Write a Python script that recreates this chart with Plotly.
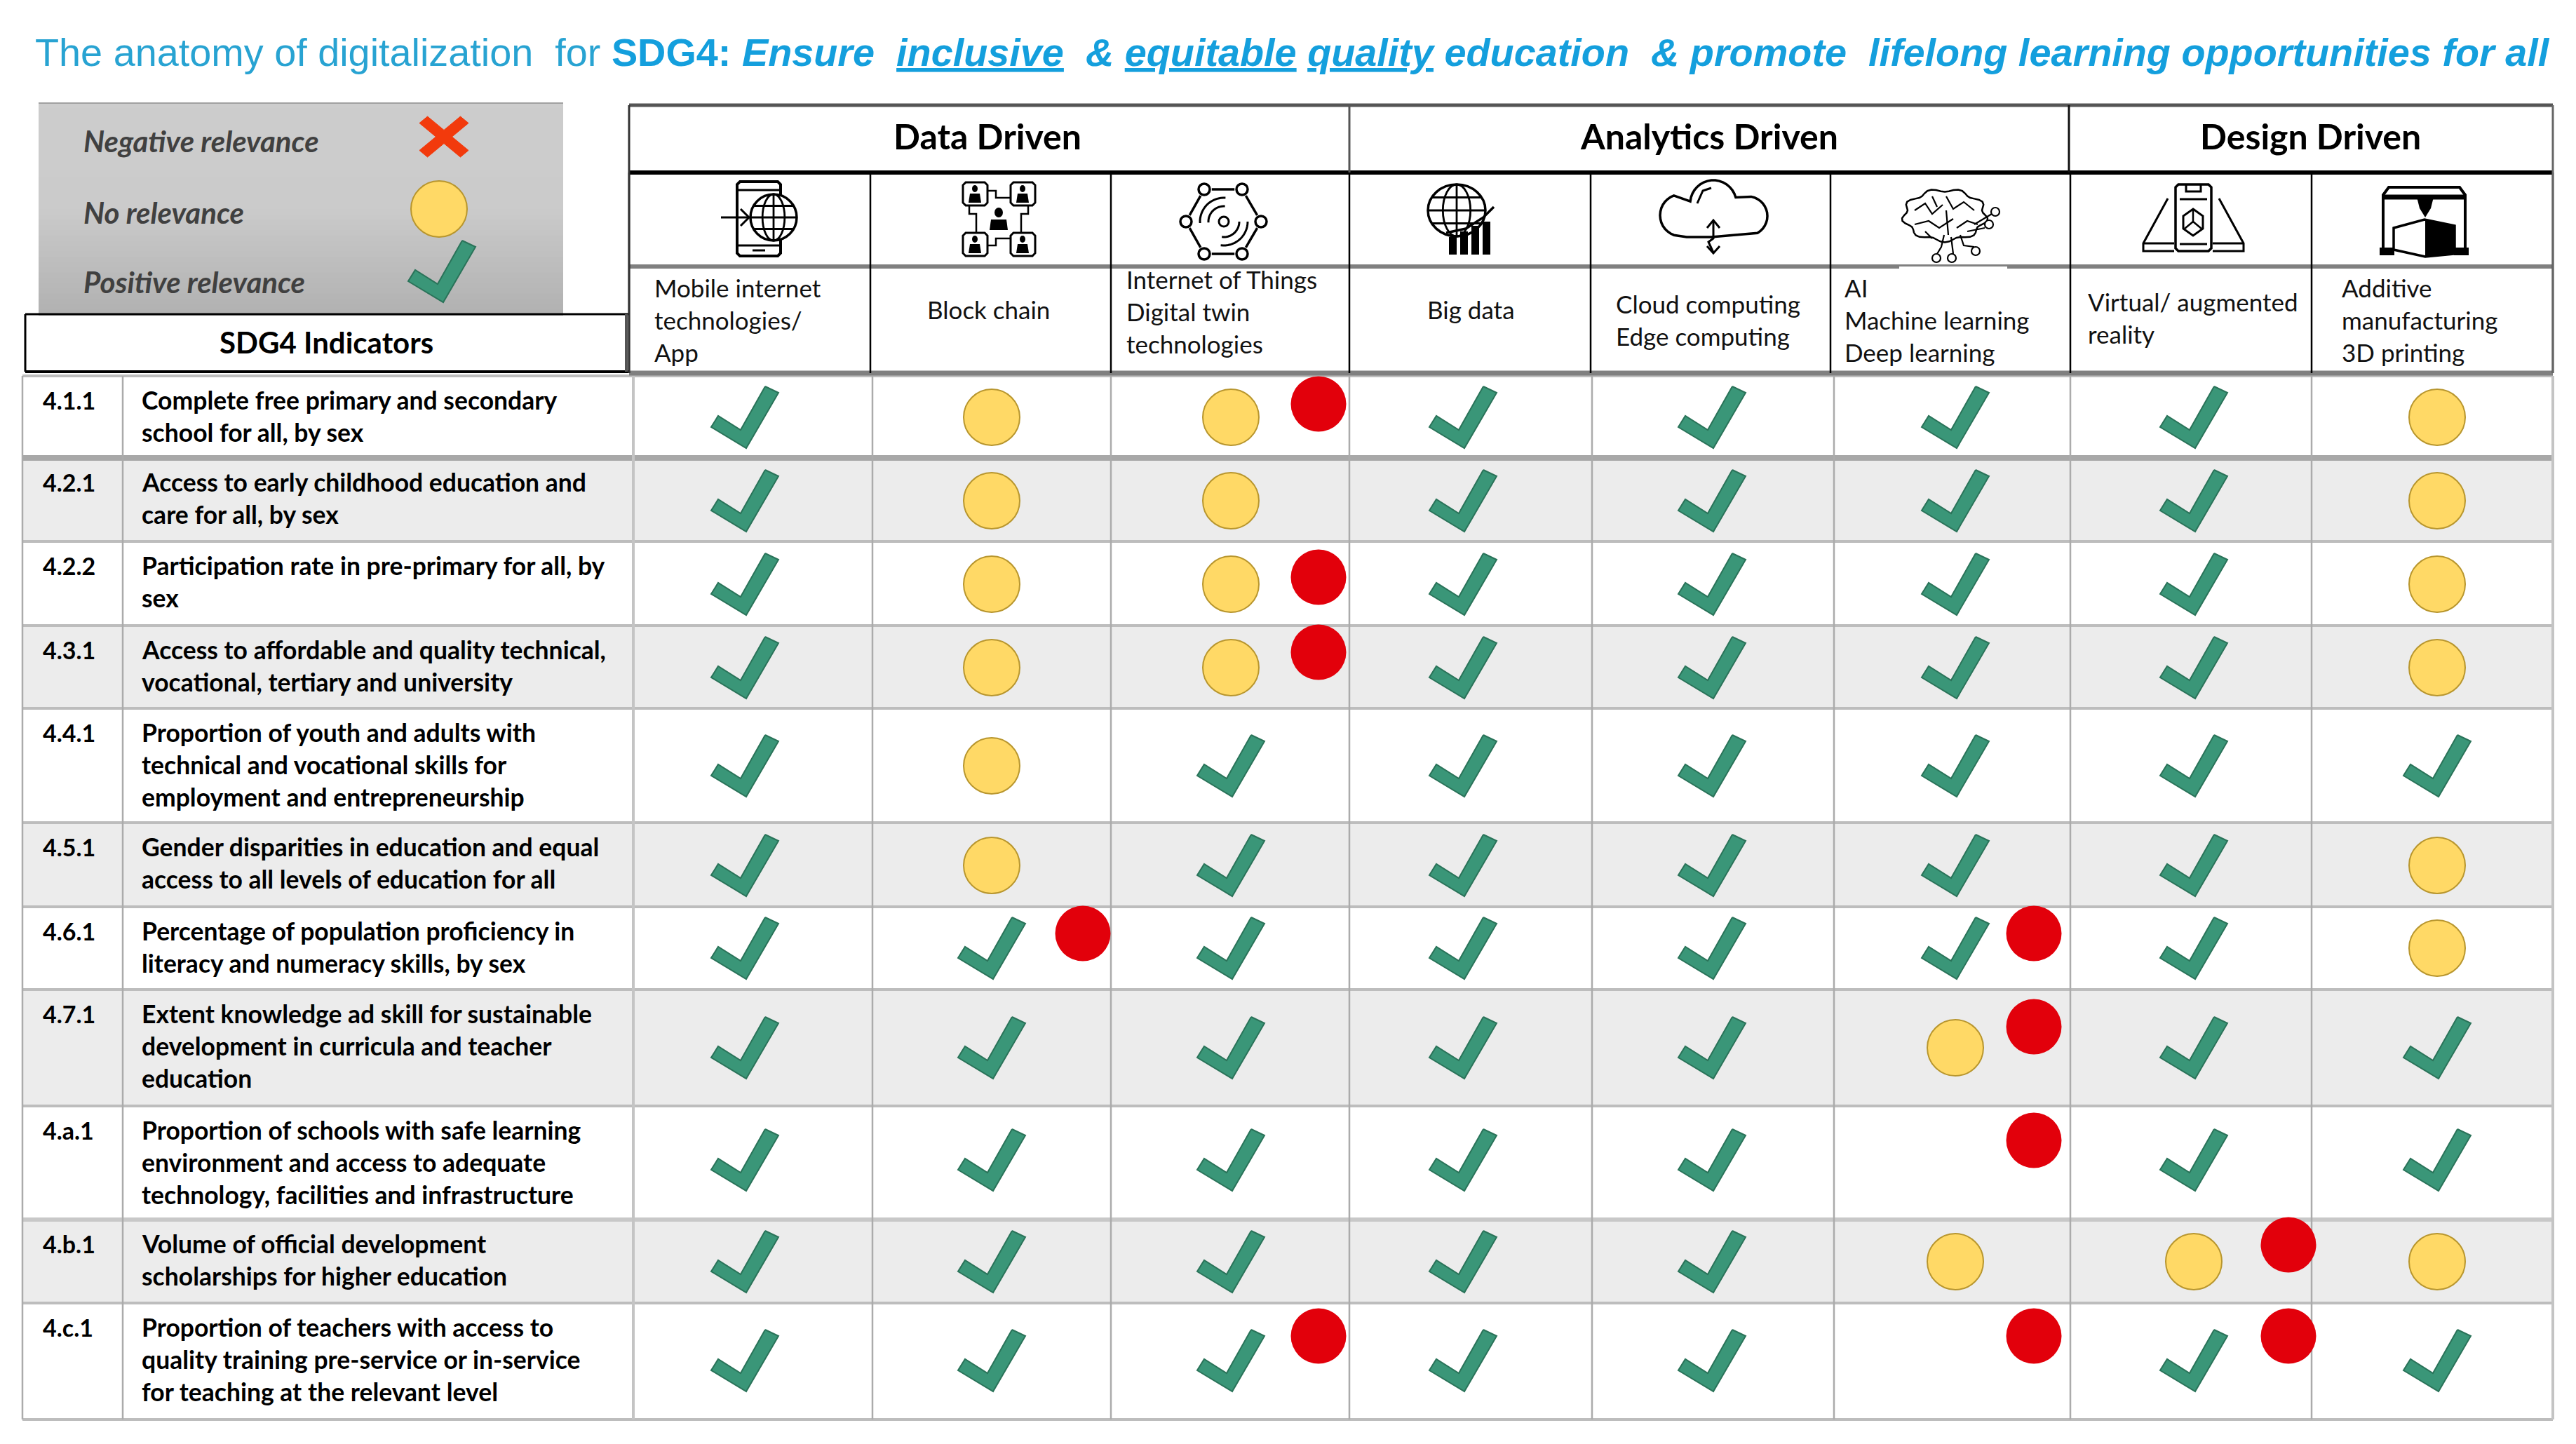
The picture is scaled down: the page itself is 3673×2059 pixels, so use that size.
import math
import plotly.graph_objects as go

# ---------- data ----------
SDG_CODES = ["4.1.1", "4.2.1", "4.2.2", "4.3.1", "4.4.1", "4.5.1", "4.6.1", "4.7.1", "4.a.1", "4.b.1", "4.c.1"]
INDICATORS = [
    ["Complete free primary and secondary", "school for all, by sex"],
    ["Access to early childhood education and", "care for all, by sex"],
    ["Participation rate in pre-primary for all, by", "sex"],
    ["Access to affordable and quality technical,", "vocational, tertiary and university"],
    ["Proportion of youth and adults with", "technical and vocational skills for", "employment and entrepreneurship"],
    ["Gender disparities in education and equal", "access to all levels of education for all"],
    ["Percentage of population proficiency in", "literacy and numeracy skills, by sex"],
    ["Extent knowledge ad skill for sustainable", "development in curricula and teacher", "education"],
    ["Proportion of schools with safe learning", "environment and access to adequate", "technology, facilities and infrastructure"],
    ["Volume of official development", "scholarships for higher education"],
    ["Proportion of teachers with access to", "quality training pre-service or in-service", "for teaching at the relevant level"],
]
GROUPS = ["Data Driven", "Analytics Driven", "Design Driven"]
TECHNOLOGIES = [
    ["Mobile internet", "technologies/", "App"],
    ["Block chain"],
    ["Internet of Things", "Digital twin", "technologies"],
    ["Big data"],
    ["Cloud computing", "Edge computing"],
    ["AI", "Machine learning", "Deep learning"],
    ["Virtual/ augmented", "reality"],
    ["Additive", "manufacturing", "3D printing"],
]
LEGEND_LABELS = ["Negative relevance", "No relevance", "Positive relevance"]
# P = positive (check), N = no relevance (yellow), - = empty
RELEVANCE = [
    "PNNPPPPN",
    "PNNPPPPN",
    "PNNPPPPN",
    "PNNPPPPN",
    "PNPPPPPP",
    "PNPPPPPN",
    "PPPPPPPN",
    "PPPPPNPP",
    "PPPPP-PP",
    "PPPPPNNN",
    "PPPPP-PP",
]
# red markers: (row index, technology index)
RED_FLAGS = [(0, 2), (2, 2), (3, 2), (6, 1), (6, 5), (7, 5), (8, 5), (9, 6), (10, 2), (10, 5), (10, 6)]

# ---------- layout constants (pixel grid of the page) ----------
W, H = 3673, 2059
ROW_LINES = [536, 653, 772, 892, 1010, 1173, 1293, 1411, 1577, 1739, 1858, 2024]
BODY_V = [32, 175, 903, 1244, 1584, 1924, 2270, 2615, 2952, 3296, 3640]
HEAD_V = [897, 1241, 1584, 1924, 2268, 2610, 2952, 3296, 3640]
COL_ANCHOR = [1062, 1414, 1755, 2086, 2441, 2788, 3128, 3475]
ROW_ANCHOR = [595, 714, 833, 952, 1092, 1234, 1352, 1494, 1654, 1799, 1940]
FLAG_DX = {1: 130, 2: 125, 5: 112, 6: 135}
FLAG_DY = {0: -19, 2: -10, 3: -22, 6: -21, 7: -30, 8: -28, 9: -24, 10: -35}
TECH_X = [932, 1321, 1605, 2034, 2303, 2629, 2976, 3338]
TECH_Y0 = [410, 441, 398, 441, 433, 410, 430, 410]
LINE_H = 46
CHECK = [(29, -44), (48, -35), (2, 44), (-48, 14), (-38, -2), (-6, 18)]
CHECK_FILL, CHECK_EDGE = "#3A9678", "#2a7359"
YELLOW, YELLOW_EDGE = "#FFD966", "#b8962e"
RED = "#E2000B"

fig = go.Figure()
shapes, notes = [], []


def line(x0, y0, x1, y1, color, width):
    shapes.append(dict(type="line", x0=x0, y0=y0, x1=x1, y1=y1, xref="x", yref="y",
                       line=dict(color=color, width=width), layer="below"))


def rect(x0, y0, x1, y1, fill, layer="below"):
    shapes.append(dict(type="rect", x0=x0, y0=y0, x1=x1, y1=y1, xref="x", yref="y",
                       fillcolor=fill, line=dict(width=0), layer=layer))


def text(x, y, s, size, color="#000000", family="Lato", anchor="left", weight=None, italic=False):
    f = dict(size=size, color=color, family=family)
    if weight:
        f["weight"] = weight
    if italic:
        f["style"] = "italic"
    notes.append(dict(x=x, y=y, xref="x", yref="y", text=s, showarrow=False, xanchor=anchor,
                      yanchor="middle", font=f, borderpad=0))


# ---------- legend box ----------
BOX = (55, 147, 803, 449)
BANDS = 40
for i in range(BANDS):
    t = i / (BANDS - 1)
    v = int(205 - 3 * t) if t < 0.5 else int(203 - (t - 0.5) * 2 * 25)
    rect(BOX[0], BOX[1] + (BOX[3] - BOX[1]) * i / BANDS, BOX[2], BOX[1] + (BOX[3] - BOX[1]) * (i + 1) / BANDS + 1,
         f"rgb({v},{v},{v})")
line(55, 147, 803, 147, "#a0a0a0", 2)
for lab, y in zip(LEGEND_LABELS, [201, 303, 402]):
    text(118, y, lab, 42, "#404040", weight=700, italic=True)

# ---------- grey rows and grid ----------
for r in range(1, 11, 2):
    rect(BODY_V[0], ROW_LINES[r], BODY_V[-1], ROW_LINES[r + 1], "#ececec")
for i, y in enumerate(ROW_LINES):
    w = 8 if i == 1 else 6 if i == 9 else 4
    c = "#a8a8a8" if i == 1 else "#c8c8c8" if i == 9 else "#bdbdbd"
    line(BODY_V[0], y, BODY_V[-1], y, c, w)
for i, x in enumerate(BODY_V):
    c = "#c4c4c4" if i in (2, len(BODY_V) - 1) else "#ababab"
    line(x, ROW_LINES[0], x, ROW_LINES[-1], c, 4 if i in (2, len(BODY_V) - 1) else 2.5)

# ---------- header grid ----------
line(36, 448, 897, 448, "#000000", 3)
line(36, 530, 897, 530, "#000000", 4)
line(36, 448, 36, 530, "#000000", 3)
line(893, 448, 893, 530, "#555555", 4)
line(897, 150, 3640, 150, "#555555", 5)
line(897, 246, 3640, 246, "#000000", 6)
line(897, 380, 3640, 380, "#808080", 6)
line(897, 532, 3640, 532, "#808080", 7)
for x in HEAD_V:
    line(x, 246, x, 532, "#000000", 2.5)
line(897, 150, 897, 532, "#333333", 3)
line(1924, 150, 1924, 246, "#555555", 3)
line(2950, 150, 2950, 246, "#111111", 3)
line(3640, 150, 3640, 532, "#666666", 3)
rect(2708, 380, 2862, 384, "#ffffff")

# ---------- texts ----------
text(465, 488, "SDG4 Indicators", 42, weight=700, anchor="center")
for lab, x in zip(GROUPS, [1408, 2437, 3294]):
    text(x, 194, lab, 50, weight=700, anchor="center")
for lines, x, y0 in zip(TECHNOLOGIES, TECH_X, TECH_Y0):
    for k, s in enumerate(lines):
        text(x, y0 + k * LINE_H, s, 35, "#111111")
for r, (code, lines) in enumerate(zip(SDG_CODES, INDICATORS)):
    top = ROW_LINES[r]
    text(60, top + 34, code, 34, weight=700)
    for k, s in enumerate(lines):
        text(201, top + 34 + k * LINE_H, s, 35.5, weight=700)

# title
S = "#28a3d2"
B = "#149fdd"
title = (f'<span style="color:{S}">The anatomy of digitalization  for </span>'
         f'<b>SDG4: <i>Ensure  <span style="text-decoration:underline">inclusive</span>  &amp; '
         f'<span style="text-decoration:underline">equitable</span> '
         f'<span style="text-decoration:underline">quality</span> education  &amp; promote  lifelong '
         f'learning opportunities for all</i></b>')
text(49, 74, title, 55.8, B, family="Liberation Sans")


# ---------- marks ----------
def polygons(template, centres):
    xs, ys = [], []
    for cx, cy in centres:
        xs += [cx + p[0] for p in template] + [cx + template[0][0], None]
        ys += [cy + p[1] for p in template] + [cy + template[0][1], None]
    return xs, ys


checks = [(COL_ANCHOR[c], ROW_ANCHOR[r]) for r, row in enumerate(RELEVANCE) for c, v in enumerate(row) if v == "P"]
yellows = [(COL_ANCHOR[c], ROW_ANCHOR[r]) for r, row in enumerate(RELEVANCE) for c, v in enumerate(row) if v == "N"]
reds = [(COL_ANCHOR[c] + FLAG_DX[c], ROW_ANCHOR[r] + FLAG_DY[r]) for r, c in RED_FLAGS]

cx_, cy_ = polygons(CHECK, checks + [(630, 387)])
fig.add_trace(go.Scatter(x=cx_, y=cy_, mode="lines", fill="toself", fillcolor=CHECK_FILL,
                         line=dict(color=CHECK_EDGE, width=2), hoverinfo="skip", showlegend=False))
yy = yellows + [(626, 298)]
fig.add_trace(go.Scatter(x=[p[0] for p in yy], y=[p[1] for p in yy], mode="markers", hoverinfo="skip", showlegend=False,
                         marker=dict(size=80, color=YELLOW, line=dict(color=YELLOW_EDGE, width=2))))
fig.add_trace(go.Scatter(x=[p[0] for p in reds], y=[p[1] for p in reds], mode="markers", hoverinfo="skip", showlegend=False,
                         marker=dict(size=79, color=RED, line=dict(width=0))))
w = 0.33
CROSS = [(0, -w), (1 - w, -1), (1, -1 + w), (w, 0), (1, 1 - w), (1 - w, 1), (0, w), (-1 + w, 1), (-1, 1 - w), (-w, 0), (-1, -1 + w), (-1 + w, -1)]
xx_, xy_ = polygons([(35 * a, 29 * b) for a, b in CROSS], [(633, 195)])
fig.add_trace(go.Scatter(x=xx_, y=xy_, mode="lines", fill="toself", fillcolor="#F23A0C",
                         line=dict(color="#F23A0C", width=1), hoverinfo="skip", showlegend=False))


# ---------- icons ----------
def path(pts, width=3.0, closed=False, fill=None, color="#000000"):
    d = "M " + " L ".join(f"{x:.1f},{y:.1f}" for x, y in pts) + (" Z" if closed else "")
    s = dict(type="path", path=d, xref="x", yref="y", line=dict(color=color, width=width), layer="above")
    if fill:
        s["fillcolor"] = fill
    if width == 0:
        s["line"] = dict(width=0)
    shapes.append(s)


def ell(cx, cy, rx, ry, width=3.0, fill=None):
    s = dict(type="circle", x0=cx - rx, x1=cx + rx, y0=cy - ry, y1=cy + ry, xref="x", yref="y",
             line=dict(color="#000000", width=width), layer="above")
    if fill:
        s["fillcolor"] = fill
    shapes.append(s)


def box(x0, y0, x1, y1, width=3.0, fill=None):
    path([(x0 + 4, y0), (x1 - 4, y0), (x1, y0 + 4), (x1, y1 - 4), (x1 - 4, y1), (x0 + 4, y1), (x0, y1 - 4), (x0, y0 + 4)],
         width, True, fill)


def globe(cx, cy, rx, ry, width=3.0):
    ell(cx, cy, rx, ry, width, "#ffffff")
    ell(cx, cy, rx * 0.48, ry, width * 0.8)
    path([(cx, cy - ry), (cx, cy + ry)], width * 0.8)
    path([(cx - rx, cy), (cx + rx, cy)], width * 0.8)
    path([(cx - rx * 0.85, cy - ry * 0.5), (cx + rx * 0.85, cy - ry * 0.5)], width * 0.8)
    path([(cx - rx * 0.85, cy + ry * 0.5), (cx + rx * 0.85, cy + ry * 0.5)], width * 0.8)


# 1 phone + globe
box(1051, 259, 1113, 365, 4)
path([(1051, 271), (1113, 271)], 3)
path([(1051, 350), (1113, 350)], 3)
path([(1073, 357), (1091, 357)], 3)
globe(1103, 310, 33, 33, 3.5)
path([(1028, 310), (1068, 310)], 3)
path([(1056, 298), (1068, 310), (1056, 322)], 3)

# 2 blockchain
for bx, by in [(1373, 260), (1441, 260), (1373, 332), (1441, 332)]:
    box(bx, by, bx + 35, by + 33, 3)
    ell(bx + 17, by + 9, 4, 5, 0, "#000000")
    path([(bx + 8, by + 29), (bx + 10, by + 16), (bx + 24, by + 16), (bx + 26, by + 29)], 0, True, "#000000")
ell(1424, 303, 6, 7, 0, "#000000")
path([(1411, 328), (1413, 313), (1435, 313), (1437, 328)], 0, True, "#000000")
path([(1408, 272), (1420, 272), (1420, 282), (1441, 282)], 2.5)
path([(1408, 350), (1420, 350), (1420, 340), (1441, 340)], 2.5)
path([(1382, 293), (1382, 305), (1392, 305), (1392, 332)], 2.5)
path([(1466, 293), (1466, 305), (1456, 305), (1456, 332)], 2.5)

# 3 IoT hexagon
nodes = [(1717, 270), (1771, 270), (1798, 316), (1771, 362), (1717, 362), (1691, 316)]
for i, (nx, ny) in enumerate(nodes):
    ax, ay = nodes[(i + 1) % 6]
    fx, fy = nx + (ax - nx) * 0.2, ny + (ay - ny) * 0.2
    gx, gy = nx + (ax - nx) * 0.8, ny + (ay - ny) * 0.8
    path([(fx, fy), (gx, gy)], 3.5)
    ell(nx, ny, 8, 8, 3.5, "#ffffff")
ell(1745, 316, 7, 7, 3)
for rad in (22, 34):
    path([(1745 + rad * math.cos(a / 10), 316 + rad * math.sin(a / 10)) for a in range(-32, -14)], 3)
    path([(1745 + rad * math.cos(a / 10), 316 + rad * math.sin(a / 10)) for a in range(0, 18)], 3)

# 4 globe + bars
globe(2077, 300, 41, 37, 3.5)
for i, top in enumerate([338, 330, 322, 316]):
    rect(2066 + i * 16, top, 2077 + i * 16, 363, "#000000", "above")
path([(2062, 332), (2090, 326), (2115, 310), (2130, 295)], 3.5)

# 5 cloud
cloud = []
for cx, cy, r, a0, a1 in [(2397, 307, 30, 110, 260), (2443, 290, 33, 185, 350), (2492, 308, 28, 280, 430)]:
    cloud += [(cx + r * math.cos(math.radians(a)), cy + r * math.sin(math.radians(a))) for a in range(a0, a1, 10)]
path(cloud + [(2440, 338), (2405, 338)], 3.5, True, "#ffffff")
path([(2420, 290), (2428, 272), (2440, 268)], 3)
path([(2443, 315), (2443, 340), (2436, 345), (2443, 360)], 3)
path([(2434, 325), (2443, 314), (2452, 325)], 3)
path([(2434, 351), (2443, 361), (2452, 351)], 3)

# 6 brain
outline = []
for a in range(0, 360, 6):
    rad = 1 + 0.07 * math.sin(math.radians(a * 9))
    outline.append((2773 + 58 * rad * math.cos(math.radians(a)), 307 + 36 * rad * math.sin(math.radians(a))))
path(outline, 2.5, True)
for pts in [[(2730, 300), (2745, 290), (2755, 305), (2770, 292)], [(2775, 280), (2785, 298), (2800, 288), (2815, 300)],
            [(2730, 320), (2750, 315), (2765, 325), (2785, 312)], [(2790, 325), (2805, 315), (2820, 320)],
            [(2755, 280), (2762, 295)], [(2745, 330), (2755, 340)], [(2775, 300), (2778, 335)]]:
    path(pts, 2.2)
for pts, c in [([(2772, 335), (2768, 352), (2762, 362)], (2761, 368)), ([(2782, 338), (2785, 362)], (2783, 368)),
               ([(2795, 335), (2800, 350), (2815, 352)], (2817, 358)), ([(2805, 330), (2830, 325)], (2836, 320)),
               ([(2815, 320), (2840, 305)], (2845, 302))]:
    path(pts, 2.2)
    ell(c[0], c[1], 6, 6, 2.2, "#ffffff")

# 7 AR phone
box(3102, 263, 3153, 358, 3.5)
path([(3117, 264), (3117, 273), (3138, 273), (3138, 264)], 3)
path([(3108, 284), (3147, 284)], 3)
path([(3108, 348), (3147, 348)], 3)
path([(3127, 298), (3141, 308), (3141, 326), (3127, 336), (3113, 326), (3113, 308)], 3, True)
path([(3127, 316), (3127, 300)], 2.5)
path([(3127, 316), (3115, 326)], 2.5)
path([(3127, 316), (3139, 326)], 2.5)
path([(3091, 283), (3056, 347), (3056, 358), (3100, 358)], 3)
path([(3164, 283), (3199, 347), (3199, 358), (3155, 358)], 3)
path([(3056, 347), (3100, 347)], 3)
path([(3155, 347), (3199, 347)], 3)

# 8 3D printer
path([(3398, 360), (3398, 278), (3406, 267), (3507, 267), (3515, 278), (3515, 360)], 4)
path([(3398, 281), (3515, 281)], 7)
path([(3446, 281), (3470, 281), (3466, 297), (3458, 310), (3450, 297)], 0, True, "#000000")
path([(3413, 325), (3457, 313), (3500, 322), (3500, 362), (3458, 366), (3413, 356)], 3.5, True, "#ffffff")
path([(3458, 314), (3500, 322), (3500, 362), (3458, 366)], 0, True, "#000000")
rect(3393, 353, 3414, 364, "#000000", "above")
rect(3499, 353, 3520, 364, "#000000", "above")

fig.update_layout(
    width=W, height=H, autosize=False, margin=dict(l=0, r=0, t=0, b=0),
    paper_bgcolor="#ffffff", plot_bgcolor="#ffffff", showlegend=False,
    xaxis=dict(range=[0, W], visible=False, fixedrange=True),
    yaxis=dict(range=[H, 0], visible=False, fixedrange=True),
    shapes=shapes, annotations=notes,
)
fig.write_html("out.html", config={"displayModeBar": False},
               post_script="document.body.style.margin='0';document.documentElement.style.overflow='hidden';")
